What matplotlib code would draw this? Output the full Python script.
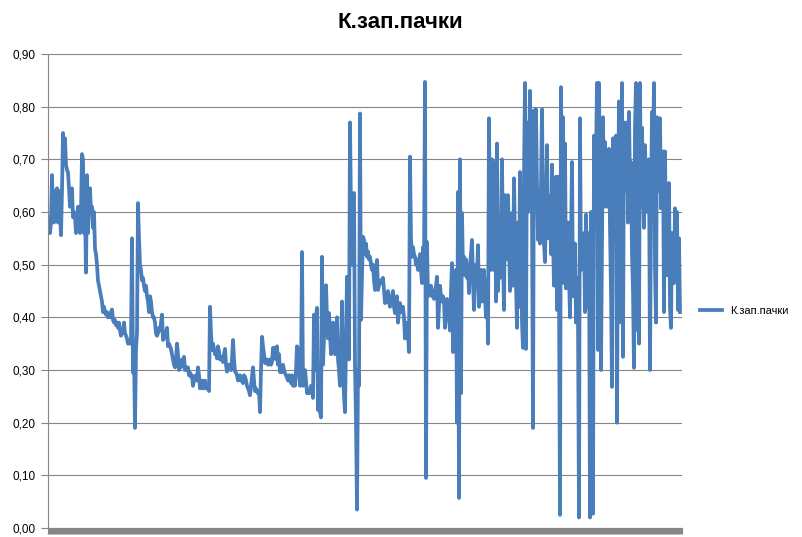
import numpy as np
import matplotlib
matplotlib.use("Agg")
import matplotlib.pyplot as plt

# К.зап.пачки, one value per sample
part1 = [0.57, 0.59, 0.56, 0.58, 0.67, 0.60, 0.58, 0.64, 0.59, 0.645,
         0.58, 0.64, 0.60, 0.556, 0.64, 0.75, 0.70, 0.74, 0.69, 0.68,
         0.675, 0.645, 0.61, 0.63, 0.645, 0.59, 0.60, 0.59, 0.56, 0.58,
         0.61, 0.58, 0.56, 0.60, 0.71, 0.70, 0.56, 0.60, 0.485, 0.67,
         0.56, 0.62, 0.645, 0.60, 0.61, 0.57, 0.60, 0.53, 0.52, 0.50,
         0.47, 0.46, 0.45, 0.44, 0.43, 0.41, 0.42, 0.41, 0.405, 0.41,
         0.40, 0.405, 0.40, 0.41, 0.415, 0.395, 0.39, 0.395, 0.385, 0.39,
         0.38, 0.39, 0.375, 0.365, 0.375, 0.37, 0.39, 0.37, 0.365, 0.36,
         0.35, 0.355, 0.35, 0.355, 0.55, 0.295, 0.33, 0.19, 0.34, 0.37,
         0.617, 0.55, 0.50, 0.49, 0.47, 0.475, 0.46, 0.45, 0.46, 0.44,
         0.43, 0.41]
part2 = [0.44, 0.43, 0.41, 0.40, 0.40, 0.39, 0.37, 0.365, 0.37, 0.38,
         0.375, 0.39, 0.405, 0.357, 0.36, 0.365, 0.37, 0.38, 0.345, 0.35,
         0.345, 0.34, 0.33, 0.32, 0.31, 0.305, 0.32, 0.35, 0.33, 0.30,
         0.31, 0.305, 0.32, 0.31, 0.325, 0.30, 0.305, 0.30, 0.305, 0.29,
         0.295, 0.287, 0.29, 0.27, 0.28, 0.285, 0.29, 0.28, 0.305, 0.29,
         0.265, 0.27, 0.28, 0.265, 0.27, 0.28, 0.265, 0.27, 0.265, 0.26,
         0.42, 0.37, 0.338, 0.35, 0.34, 0.33, 0.335, 0.322, 0.345, 0.335,
         0.32, 0.325, 0.32, 0.315, 0.33, 0.34, 0.31, 0.297, 0.30, 0.31,
         0.31, 0.30, 0.32, 0.357, 0.32, 0.297, 0.295, 0.29, 0.28, 0.285,
         0.29, 0.28, 0.28, 0.275, 0.29, 0.287, 0.28, 0.27, 0.265, 0.26,
         0.252, 0.27, 0.29, 0.305, 0.28, 0.26, 0.265, 0.258]
part3 = [0.256, 0.26, 0.22, 0.30, 0.363, 0.345, 0.33, 0.313, 0.32, 0.32,
         0.31, 0.315, 0.32, 0.31, 0.315, 0.342, 0.335, 0.342, 0.32, 0.345,
         0.31, 0.33, 0.296, 0.30, 0.296, 0.31, 0.30, 0.294, 0.29, 0.285,
         0.28, 0.29, 0.285, 0.275, 0.29, 0.27, 0.285, 0.27, 0.30, 0.345,
         0.34, 0.30, 0.27, 0.29, 0.524, 0.27, 0.29, 0.30, 0.28, 0.256,
         0.26, 0.256, 0.26, 0.27, 0.26, 0.247, 0.405, 0.30, 0.40, 0.418,
         0.224, 0.25, 0.22, 0.21, 0.515, 0.31, 0.36, 0.40, 0.461, 0.40,
         0.36, 0.408, 0.37, 0.33, 0.36, 0.39, 0.35, 0.33, 0.37, 0.40,
         0.32, 0.30, 0.27, 0.33, 0.43, 0.30, 0.25, 0.22, 0.35, 0.477,
         0.40, 0.32, 0.77, 0.60, 0.50, 0.617, 0.636, 0.31, 0.205, 0.035,
         0.30, 0.27, 0.787, 0.395]
part4 = [0.48, 0.553, 0.547, 0.52, 0.54, 0.515, 0.525, 0.51, 0.515, 0.50,
         0.49, 0.50, 0.47, 0.452, 0.48, 0.509, 0.452, 0.46, 0.47, 0.465,
         0.47, 0.475, 0.45, 0.427, 0.44, 0.43, 0.45, 0.43, 0.42, 0.43,
         0.44, 0.45, 0.42, 0.408, 0.43, 0.44, 0.39, 0.41, 0.427, 0.41,
         0.42, 0.42, 0.40, 0.36, 0.38, 0.39, 0.37, 0.334, 0.705, 0.55,
         0.515, 0.533, 0.52, 0.515, 0.50, 0.51, 0.49, 0.50, 0.52, 0.49,
         0.465, 0.533, 0.50, 0.847, 0.095, 0.543, 0.44, 0.46, 0.45, 0.46,
         0.44, 0.45, 0.435, 0.45, 0.46, 0.477, 0.38, 0.42, 0.46, 0.44,
         0.43, 0.44, 0.43, 0.38, 0.41, 0.435, 0.42, 0.40, 0.375, 0.45,
         0.503, 0.334, 0.40, 0.45, 0.49, 0.20, 0.638, 0.057, 0.70, 0.256,
         0.598, 0.49, 0.515]
part5 = [0.48, 0.51, 0.475, 0.50, 0.446, 0.50, 0.52, 0.547, 0.47, 0.414,
         0.46, 0.50, 0.48, 0.537, 0.42, 0.45, 0.49, 0.43, 0.46, 0.49,
         0.44, 0.40, 0.47, 0.35, 0.778, 0.524, 0.49, 0.70, 0.60, 0.49,
         0.695, 0.43, 0.73, 0.45, 0.53, 0.475, 0.55, 0.70, 0.52, 0.414,
         0.632, 0.56, 0.51, 0.632, 0.55, 0.45, 0.52, 0.598, 0.46, 0.664,
         0.55, 0.465, 0.38, 0.58, 0.42, 0.676, 0.55, 0.39, 0.342, 0.67,
         0.845, 0.34, 0.77, 0.60, 0.70, 0.83, 0.65, 0.60, 0.19, 0.793,
         0.61, 0.795, 0.65, 0.547, 0.64, 0.54, 0.65, 0.795, 0.60, 0.54,
         0.505, 0.62, 0.727, 0.55, 0.60, 0.63, 0.52, 0.69, 0.55, 0.46,
         0.55, 0.667, 0.414, 0.667, 0.45, 0.025, 0.837, 0.60, 0.78, 0.465,
         0.73, 0.455, 0.52, 0.58, 0.48, 0.40, 0.55]
part6 = [0.695, 0.44, 0.50, 0.54, 0.39, 0.475, 0.40, 0.02, 0.778, 0.49,
         0.55, 0.50, 0.56, 0.41, 0.595, 0.48, 0.42, 0.56, 0.02, 0.60,
         0.55, 0.027, 0.745, 0.60, 0.70, 0.845, 0.338, 0.845, 0.60, 0.30,
         0.55, 0.78, 0.61, 0.733, 0.65, 0.61, 0.68, 0.72, 0.57, 0.45,
         0.268, 0.74, 0.60, 0.68, 0.745, 0.20, 0.60, 0.81, 0.55, 0.39,
         0.845, 0.325, 0.77, 0.64, 0.70, 0.77, 0.58, 0.79, 0.65, 0.695,
         0.52, 0.45, 0.304, 0.76, 0.845, 0.376, 0.45, 0.35, 0.845, 0.61,
         0.76, 0.65, 0.57, 0.727, 0.65, 0.60, 0.65, 0.70, 0.30, 0.60,
         0.79, 0.70, 0.845, 0.49, 0.39, 0.78, 0.70, 0.64, 0.778, 0.607,
         0.65, 0.715, 0.41, 0.715, 0.55, 0.48, 0.60, 0.655, 0.42, 0.38,
         0.56, 0.50, 0.465, 0.607, 0.55, 0.60, 0.414, 0.55, 0.41]

k_zap = part1 + part2 + part3 + part4 + part5 + part6
y_ticks = [0.0, 0.1, 0.2, 0.3, 0.4, 0.5, 0.6, 0.7, 0.8, 0.9]
y_labels = ["0,00", "0,10", "0,20", "0,30", "0,40", "0,50", "0,60", "0,70", "0,80", "0,90"]
series_name = "К.зап.пачки"

plt.rcParams['font.family'] = ['Liberation Sans', 'DejaVu Sans']

W, H = 803, 537
fig = plt.figure(figsize=(W / 100, H / 100), dpi=100)
ax = fig.add_axes([48 / W, (H - 528) / H, (682 - 48) / W, (528 - 54) / H])

line_col = '#4A7EBB'
grid_col = '#868686'

ax.plot(np.arange(len(k_zap)), k_zap, color=line_col, lw=2.7,
        solid_joinstyle='round', label=series_name)

ax.set_xlim(0, 634)
ax.set_ylim(0, 0.9)
ax.set_yticks(y_ticks)
ax.set_yticklabels(y_labels, fontsize=8.5)
ax.yaxis.grid(True, color=grid_col, lw=0.8)
ax.set_axisbelow(True)

# dense category ticks that merge into a grey band
ax.set_xticks(np.arange(0, 635, 1))
ax.set_xticklabels([])
ax.tick_params(axis='x', length=4, width=0.8, color=grid_col, direction='out')
ax.tick_params(axis='y', length=5, width=0.8, color=grid_col, pad=4)

for s in ['top', 'right']:
    ax.spines[s].set_visible(False)
ax.spines['left'].set_color(grid_col)
ax.spines['bottom'].set_color(grid_col)
ax.spines['left'].set_linewidth(0.8)
ax.spines['bottom'].set_linewidth(0.8)

fig.text(400 / W, 1 - 22 / H, series_name, ha='center', va='center',
         fontsize=16, fontweight='bold')

fig.legend(loc='center left', bbox_to_anchor=(700 / W, 1 - 311 / H),
           frameon=False, fontsize=8, handlelength=2.0, handletextpad=0.7,
           borderpad=0, borderaxespad=0)

fig.savefig("out.png", dpi=100)
